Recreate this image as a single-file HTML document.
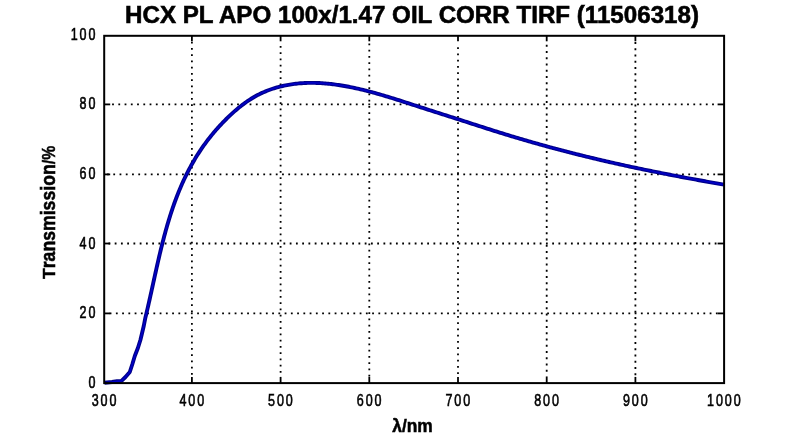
<!DOCTYPE html>
<html><head><meta charset="utf-8"><style>
html,body{margin:0;padding:0;background:#fff;width:800px;height:438px;overflow:hidden}
svg{display:block}
text{font-family:"Liberation Sans",sans-serif;fill:#000}
svg text{filter:grayscale(1)}
.tl{font-size:16.5px;stroke:#000;stroke-width:.6px;letter-spacing:2.5px}
.al{font-size:17.5px;font-weight:bold;stroke:#000;stroke-width:.5px}
.ti{font-size:24.5px;font-weight:bold;stroke:#000;stroke-width:.6px}
.g{stroke:#000;stroke-width:1.8;stroke-dasharray:1.8 4.45;fill:none}
.gv{stroke:#000;stroke-width:2;stroke-dasharray:2 4.4;fill:none}
.t{stroke:#000;stroke-width:1.8;fill:none}
.fr{stroke:#000;stroke-width:2;fill:none}
.c{stroke:#000088;stroke-width:3.9;fill:none;stroke-linejoin:round;stroke-linecap:butt}
.c2{stroke:#0000f0;stroke-width:1.6;fill:none;stroke-linejoin:round;opacity:.6}
</style></head><body>
<svg width="800" height="438" viewBox="0 0 800 438">
<line x1="109.65" y1="313.4" x2="717.6" y2="313.4" class="g"/>
<line x1="108.45" y1="243.5" x2="717.6" y2="243.5" class="g"/>
<line x1="107.05" y1="174.4" x2="717.6" y2="174.4" class="g"/>
<line x1="112.1" y1="104.4" x2="717.6" y2="104.4" class="g"/>
<line x1="191.9" y1="41.8" x2="191.9" y2="376.6" class="g"/>
<line x1="280.6" y1="45.9" x2="280.6" y2="376.6" class="g"/>
<line x1="369.3" y1="43.5" x2="369.3" y2="376.6" class="g"/>
<line x1="458" y1="47.2" x2="458" y2="376.6" class="g"/>
<line x1="546.7" y1="44.85" x2="546.7" y2="376.6" class="g"/>
<line x1="635.4" y1="42.1" x2="635.4" y2="376.6" class="g"/>
<line x1="191.9" y1="383.1" x2="191.9" y2="376.9" class="t"/>
<line x1="191.9" y1="35.8" x2="191.9" y2="41.3" class="t"/>
<line x1="280.6" y1="383.1" x2="280.6" y2="376.9" class="t"/>
<line x1="280.6" y1="35.8" x2="280.6" y2="41.3" class="t"/>
<line x1="369.3" y1="383.1" x2="369.3" y2="376.9" class="t"/>
<line x1="369.3" y1="35.8" x2="369.3" y2="41.3" class="t"/>
<line x1="458" y1="383.1" x2="458" y2="376.9" class="t"/>
<line x1="458" y1="35.8" x2="458" y2="41.3" class="t"/>
<line x1="546.7" y1="383.1" x2="546.7" y2="376.9" class="t"/>
<line x1="546.7" y1="35.8" x2="546.7" y2="41.3" class="t"/>
<line x1="635.4" y1="383.1" x2="635.4" y2="376.9" class="t"/>
<line x1="635.4" y1="35.8" x2="635.4" y2="41.3" class="t"/>
<line x1="104.2" y1="313.4" x2="110.2" y2="313.4" class="t"/>
<line x1="724.1" y1="313.4" x2="717.6" y2="313.4" class="t"/>
<line x1="104.2" y1="243.5" x2="110.2" y2="243.5" class="t"/>
<line x1="724.1" y1="243.5" x2="717.6" y2="243.5" class="t"/>
<line x1="104.2" y1="174.4" x2="110.2" y2="174.4" class="t"/>
<line x1="724.1" y1="174.4" x2="717.6" y2="174.4" class="t"/>
<line x1="104.2" y1="104.4" x2="110.2" y2="104.4" class="t"/>
<line x1="724.1" y1="104.4" x2="717.6" y2="104.4" class="t"/>
<path d="M104.5,382.7 L112,382 L117,381.2 L121.5,380.9 L125.5,377 L129.8,372 L132.4,364 L134.8,356 L137.9,348 L140.4,340 L141.85,334 L143.75,326 L145.33,317.88 L145.67,316.46 L146.02,315.04 L146.36,313.61 L146.69,312.18 L147.03,310.75 L147.36,309.32 L147.7,307.89 L148.03,306.46 L148.36,305.02 L148.68,303.58 L149.01,302.15 L149.33,300.71 L149.66,299.27 L149.98,297.83 L150.3,296.38 L150.62,294.94 L150.94,293.5 L151.26,292.05 L151.58,290.61 L151.9,289.16 L152.22,287.71 L152.53,286.26 L152.85,284.82 L153.17,283.37 L153.49,281.92 L153.81,280.47 L154.12,279.02 L154.44,277.57 L154.76,276.11 L155.08,274.66 L155.4,273.21 L155.73,271.76 L156.05,270.31 L156.37,268.86 L156.7,267.41 L157.03,265.95 L157.36,264.5 L157.68,263.05 L158.02,261.6 L158.35,260.15 L158.69,258.7 L159.02,257.25 L159.36,255.8 L159.7,254.35 L160.05,252.9 L160.39,251.46 L160.74,250.01 L161.1,248.56 L161.45,247.12 L161.81,245.67 L162.17,244.23 L162.53,242.79 L162.9,241.35 L163.27,239.91 L163.64,238.47 L164.02,237.03 L164.4,235.59 L164.79,234.16 L165.18,232.73 L165.57,231.29 L165.96,229.86 L166.37,228.43 L166.77,227 L167.18,225.58 L167.6,224.15 L168.01,222.73 L168.44,221.31 L168.87,219.89 L169.3,218.47 L169.74,217.06 L170.18,215.65 L170.63,214.23 L171.09,212.83 L171.55,211.42 L172.02,210.01 L172.49,208.61 L172.97,207.21 L173.45,205.81 L173.94,204.42 L174.44,203.03 L174.94,201.64 L175.45,200.25 L175.96,198.87 L176.49,197.48 L177.01,196.1 L177.55,194.73 L178.09,193.36 L178.64,191.99 L179.2,190.62 L179.77,189.25 L180.34,187.89 L180.92,186.54 L181.5,185.18 L182.1,183.83 L182.7,182.48 L183.31,181.14 L183.93,179.8 L184.56,178.46 L185.2,177.12 L185.84,175.79 L186.49,174.47 L187.15,173.14 L187.82,171.82 L188.5,170.51 L189.19,169.2 L189.89,167.89 L190.59,166.59 L191.3,165.29 L192.03,164 L192.76,162.71 L193.5,161.42 L194.25,160.14 L195,158.87 L195.77,157.6 L196.55,156.34 L197.33,155.08 L198.13,153.83 L198.93,152.58 L199.74,151.34 L200.56,150.1 L201.39,148.87 L202.23,147.65 L203.08,146.43 L203.94,145.22 L204.81,144.02 L205.68,142.82 L206.57,141.63 L207.46,140.44 L208.37,139.26 L209.28,138.09 L210.2,136.93 L211.13,135.77 L212.07,134.62 L213.02,133.48 L213.98,132.34 L214.94,131.21 L215.91,130.09 L216.89,128.97 L217.88,127.86 L218.88,126.76 L219.88,125.67 L220.9,124.58 L221.92,123.5 L222.94,122.43 L223.98,121.36 L225.02,120.3 L226.07,119.25 L227.13,118.21 L228.19,117.17 L229.26,116.14 L230.34,115.12 L231.42,114.11 L232.51,113.11 L233.62,112.12 L234.72,111.14 L235.84,110.17 L236.97,109.21 L238.1,108.26 L239.25,107.33 L240.4,106.4 L241.56,105.49 L242.73,104.6 L243.91,103.72 L245.1,102.85 L246.3,102 L247.51,101.16 L248.73,100.34 L249.97,99.54 L251.21,98.75 L252.46,97.98 L253.73,97.23 L255,96.5 L256.29,95.78 L257.59,95.09 L258.9,94.41 L260.23,93.76 L261.56,93.12 L262.91,92.51 L264.26,91.92 L265.63,91.34 L267.01,90.79 L268.39,90.25 L269.79,89.74 L271.19,89.24 L272.6,88.77 L274.02,88.31 L275.44,87.87 L276.88,87.46 L278.31,87.06 L279.75,86.68 L281.2,86.32 L282.65,85.98 L284.11,85.65 L285.57,85.35 L287.03,85.06 L288.49,84.8 L289.96,84.55 L291.42,84.32 L292.89,84.1 L294.36,83.91 L295.83,83.73 L297.3,83.57 L298.77,83.43 L300.25,83.3 L301.72,83.19 L303.2,83.1 L304.67,83.02 L306.15,82.96 L307.62,82.92 L309.1,82.88 L310.58,82.87 L312.06,82.87 L313.53,82.88 L315.01,82.91 L316.49,82.95 L317.96,83 L319.44,83.07 L320.92,83.15 L322.39,83.24 L323.87,83.35 L325.35,83.47 L326.82,83.59 L328.29,83.74 L329.77,83.89 L331.24,84.05 L332.71,84.23 L334.18,84.41 L335.65,84.61 L337.12,84.82 L338.58,85.03 L340.05,85.26 L341.51,85.49 L342.97,85.74 L344.43,85.99 L345.89,86.25 L347.35,86.52 L348.8,86.79 L350.25,87.08 L351.7,87.37 L353.15,87.67 L354.6,87.98 L356.05,88.3 L357.49,88.62 L358.94,88.95 L360.38,89.28 L361.82,89.63 L363.26,89.97 L364.7,90.33 L366.13,90.69 L367.57,91.06 L369,91.43 L370.43,91.81 L371.86,92.19 L373.29,92.58 L374.72,92.97 L376.15,93.37 L377.58,93.77 L379,94.18 L380.43,94.59 L381.85,95 L383.27,95.42 L384.7,95.84 L386.12,96.27 L387.54,96.7 L388.96,97.13 L390.38,97.56 L391.79,98 L393.21,98.44 L394.63,98.89 L396.04,99.33 L397.46,99.78 L398.87,100.23 L400.29,100.68 L401.7,101.13 L403.11,101.58 L404.52,102.04 L405.94,102.5 L407.35,102.95 L408.76,103.41 L410.17,103.87 L411.58,104.33 L412.99,104.78 L414.4,105.24 L415.81,105.7 L417.22,106.16 L418.63,106.62 L420.04,107.07 L421.45,107.53 L422.86,107.98 L424.27,108.44 L425.68,108.89 L427.09,109.34 L428.5,109.79 L429.91,110.24 L431.32,110.7 L432.73,111.15 L434.14,111.6 L435.55,112.05 L436.96,112.5 L438.37,112.95 L439.77,113.4 L441.18,113.84 L442.59,114.29 L444,114.74 L445.41,115.19 L446.82,115.64 L448.23,116.09 L449.64,116.54 L451.05,116.99 L452.46,117.44 L453.86,117.89 L455.27,118.34 L456.68,118.79 L458.09,119.25 L459.5,119.7 L460.91,120.15 L462.32,120.61 L463.73,121.06 L465.14,121.52 L466.55,121.97 L467.95,122.43 L469.36,122.88 L470.77,123.34 L472.18,123.79 L473.59,124.25 L475,124.7 L476.41,125.16 L477.82,125.61 L479.23,126.06 L480.64,126.52 L482.05,126.97 L483.46,127.42 L484.87,127.88 L486.29,128.33 L487.7,128.78 L489.11,129.23 L490.52,129.68 L491.93,130.13 L493.35,130.57 L494.76,131.02 L496.17,131.47 L497.59,131.91 L499,132.35 L500.42,132.79 L501.83,133.23 L503.25,133.67 L504.66,134.11 L506.08,134.55 L507.5,134.98 L508.91,135.41 L510.33,135.84 L511.75,136.27 L513.17,136.7 L514.59,137.13 L516.01,137.55 L517.43,137.98 L518.85,138.4 L520.27,138.82 L521.69,139.24 L523.11,139.65 L524.53,140.07 L525.96,140.48 L527.38,140.89 L528.8,141.31 L530.23,141.71 L531.65,142.12 L533.08,142.53 L534.5,142.93 L535.93,143.34 L537.35,143.74 L538.78,144.14 L540.2,144.54 L541.63,144.93 L543.06,145.33 L544.49,145.72 L545.92,146.12 L547.34,146.51 L548.77,146.9 L550.2,147.29 L551.63,147.67 L553.06,148.06 L554.49,148.44 L555.93,148.83 L557.36,149.21 L558.79,149.59 L560.22,149.97 L561.65,150.34 L563.09,150.72 L564.52,151.09 L565.95,151.46 L567.39,151.83 L568.82,152.2 L570.26,152.57 L571.69,152.94 L573.13,153.3 L574.56,153.67 L576,154.03 L577.44,154.39 L578.87,154.75 L580.31,155.11 L581.75,155.47 L583.19,155.82 L584.63,156.18 L586.07,156.53 L587.5,156.88 L588.94,157.23 L590.38,157.58 L591.82,157.93 L593.26,158.27 L594.71,158.62 L596.15,158.96 L597.59,159.3 L599.03,159.64 L600.47,159.98 L601.92,160.32 L603.36,160.65 L604.8,160.99 L606.25,161.32 L607.69,161.65 L609.13,161.99 L610.58,162.32 L612.02,162.64 L613.47,162.97 L614.91,163.3 L616.36,163.62 L617.81,163.94 L619.25,164.27 L620.7,164.59 L622.15,164.9 L623.59,165.22 L625.04,165.54 L626.49,165.85 L627.94,166.17 L629.39,166.48 L630.84,166.79 L632.28,167.1 L633.73,167.41 L635.18,167.72 L636.63,168.03 L638.08,168.33 L639.53,168.64 L640.99,168.94 L642.44,169.24 L643.89,169.54 L645.34,169.84 L646.79,170.14 L648.24,170.44 L649.7,170.73 L651.15,171.03 L652.6,171.32 L654.05,171.62 L655.51,171.91 L656.96,172.2 L658.41,172.49 L659.87,172.78 L661.32,173.07 L662.78,173.35 L664.23,173.64 L665.69,173.93 L667.14,174.21 L668.59,174.49 L670.05,174.78 L671.51,175.06 L672.96,175.34 L674.42,175.62 L675.87,175.89 L677.33,176.17 L678.78,176.45 L680.24,176.72 L681.7,177 L683.15,177.27 L684.61,177.55 L686.07,177.82 L687.53,178.09 L688.98,178.36 L690.44,178.63 L691.9,178.9 L693.36,179.17 L694.81,179.44 L696.27,179.7 L697.73,179.97 L699.19,180.24 L700.65,180.5 L702.1,180.77 L703.56,181.03 L705.02,181.29 L706.48,181.55 L707.94,181.81 L709.4,182.08 L710.86,182.34 L712.31,182.59 L713.77,182.85 L715.23,183.11 L716.69,183.37 L718.15,183.63 L719.61,183.88 L721.07,184.14 L722.53,184.39 L723.99,184.65" class="c"/>
<path d="M104.5,382.7 L112,382 L117,381.2 L121.5,380.9 L125.5,377 L129.8,372 L132.4,364 L134.8,356 L137.9,348 L140.4,340 L141.85,334 L143.75,326 L145.33,317.88 L145.67,316.46 L146.02,315.04 L146.36,313.61 L146.69,312.18 L147.03,310.75 L147.36,309.32 L147.7,307.89 L148.03,306.46 L148.36,305.02 L148.68,303.58 L149.01,302.15 L149.33,300.71 L149.66,299.27 L149.98,297.83 L150.3,296.38 L150.62,294.94 L150.94,293.5 L151.26,292.05 L151.58,290.61 L151.9,289.16 L152.22,287.71 L152.53,286.26 L152.85,284.82 L153.17,283.37 L153.49,281.92 L153.81,280.47 L154.12,279.02 L154.44,277.57 L154.76,276.11 L155.08,274.66 L155.4,273.21 L155.73,271.76 L156.05,270.31 L156.37,268.86 L156.7,267.41 L157.03,265.95 L157.36,264.5 L157.68,263.05 L158.02,261.6 L158.35,260.15 L158.69,258.7 L159.02,257.25 L159.36,255.8 L159.7,254.35 L160.05,252.9 L160.39,251.46 L160.74,250.01 L161.1,248.56 L161.45,247.12 L161.81,245.67 L162.17,244.23 L162.53,242.79 L162.9,241.35 L163.27,239.91 L163.64,238.47 L164.02,237.03 L164.4,235.59 L164.79,234.16 L165.18,232.73 L165.57,231.29 L165.96,229.86 L166.37,228.43 L166.77,227 L167.18,225.58 L167.6,224.15 L168.01,222.73 L168.44,221.31 L168.87,219.89 L169.3,218.47 L169.74,217.06 L170.18,215.65 L170.63,214.23 L171.09,212.83 L171.55,211.42 L172.02,210.01 L172.49,208.61 L172.97,207.21 L173.45,205.81 L173.94,204.42 L174.44,203.03 L174.94,201.64 L175.45,200.25 L175.96,198.87 L176.49,197.48 L177.01,196.1 L177.55,194.73 L178.09,193.36 L178.64,191.99 L179.2,190.62 L179.77,189.25 L180.34,187.89 L180.92,186.54 L181.5,185.18 L182.1,183.83 L182.7,182.48 L183.31,181.14 L183.93,179.8 L184.56,178.46 L185.2,177.12 L185.84,175.79 L186.49,174.47 L187.15,173.14 L187.82,171.82 L188.5,170.51 L189.19,169.2 L189.89,167.89 L190.59,166.59 L191.3,165.29 L192.03,164 L192.76,162.71 L193.5,161.42 L194.25,160.14 L195,158.87 L195.77,157.6 L196.55,156.34 L197.33,155.08 L198.13,153.83 L198.93,152.58 L199.74,151.34 L200.56,150.1 L201.39,148.87 L202.23,147.65 L203.08,146.43 L203.94,145.22 L204.81,144.02 L205.68,142.82 L206.57,141.63 L207.46,140.44 L208.37,139.26 L209.28,138.09 L210.2,136.93 L211.13,135.77 L212.07,134.62 L213.02,133.48 L213.98,132.34 L214.94,131.21 L215.91,130.09 L216.89,128.97 L217.88,127.86 L218.88,126.76 L219.88,125.67 L220.9,124.58 L221.92,123.5 L222.94,122.43 L223.98,121.36 L225.02,120.3 L226.07,119.25 L227.13,118.21 L228.19,117.17 L229.26,116.14 L230.34,115.12 L231.42,114.11 L232.51,113.11 L233.62,112.12 L234.72,111.14 L235.84,110.17 L236.97,109.21 L238.1,108.26 L239.25,107.33 L240.4,106.4 L241.56,105.49 L242.73,104.6 L243.91,103.72 L245.1,102.85 L246.3,102 L247.51,101.16 L248.73,100.34 L249.97,99.54 L251.21,98.75 L252.46,97.98 L253.73,97.23 L255,96.5 L256.29,95.78 L257.59,95.09 L258.9,94.41 L260.23,93.76 L261.56,93.12 L262.91,92.51 L264.26,91.92 L265.63,91.34 L267.01,90.79 L268.39,90.25 L269.79,89.74 L271.19,89.24 L272.6,88.77 L274.02,88.31 L275.44,87.87 L276.88,87.46 L278.31,87.06 L279.75,86.68 L281.2,86.32 L282.65,85.98 L284.11,85.65 L285.57,85.35 L287.03,85.06 L288.49,84.8 L289.96,84.55 L291.42,84.32 L292.89,84.1 L294.36,83.91 L295.83,83.73 L297.3,83.57 L298.77,83.43 L300.25,83.3 L301.72,83.19 L303.2,83.1 L304.67,83.02 L306.15,82.96 L307.62,82.92 L309.1,82.88 L310.58,82.87 L312.06,82.87 L313.53,82.88 L315.01,82.91 L316.49,82.95 L317.96,83 L319.44,83.07 L320.92,83.15 L322.39,83.24 L323.87,83.35 L325.35,83.47 L326.82,83.59 L328.29,83.74 L329.77,83.89 L331.24,84.05 L332.71,84.23 L334.18,84.41 L335.65,84.61 L337.12,84.82 L338.58,85.03 L340.05,85.26 L341.51,85.49 L342.97,85.74 L344.43,85.99 L345.89,86.25 L347.35,86.52 L348.8,86.79 L350.25,87.08 L351.7,87.37 L353.15,87.67 L354.6,87.98 L356.05,88.3 L357.49,88.62 L358.94,88.95 L360.38,89.28 L361.82,89.63 L363.26,89.97 L364.7,90.33 L366.13,90.69 L367.57,91.06 L369,91.43 L370.43,91.81 L371.86,92.19 L373.29,92.58 L374.72,92.97 L376.15,93.37 L377.58,93.77 L379,94.18 L380.43,94.59 L381.85,95 L383.27,95.42 L384.7,95.84 L386.12,96.27 L387.54,96.7 L388.96,97.13 L390.38,97.56 L391.79,98 L393.21,98.44 L394.63,98.89 L396.04,99.33 L397.46,99.78 L398.87,100.23 L400.29,100.68 L401.7,101.13 L403.11,101.58 L404.52,102.04 L405.94,102.5 L407.35,102.95 L408.76,103.41 L410.17,103.87 L411.58,104.33 L412.99,104.78 L414.4,105.24 L415.81,105.7 L417.22,106.16 L418.63,106.62 L420.04,107.07 L421.45,107.53 L422.86,107.98 L424.27,108.44 L425.68,108.89 L427.09,109.34 L428.5,109.79 L429.91,110.24 L431.32,110.7 L432.73,111.15 L434.14,111.6 L435.55,112.05 L436.96,112.5 L438.37,112.95 L439.77,113.4 L441.18,113.84 L442.59,114.29 L444,114.74 L445.41,115.19 L446.82,115.64 L448.23,116.09 L449.64,116.54 L451.05,116.99 L452.46,117.44 L453.86,117.89 L455.27,118.34 L456.68,118.79 L458.09,119.25 L459.5,119.7 L460.91,120.15 L462.32,120.61 L463.73,121.06 L465.14,121.52 L466.55,121.97 L467.95,122.43 L469.36,122.88 L470.77,123.34 L472.18,123.79 L473.59,124.25 L475,124.7 L476.41,125.16 L477.82,125.61 L479.23,126.06 L480.64,126.52 L482.05,126.97 L483.46,127.42 L484.87,127.88 L486.29,128.33 L487.7,128.78 L489.11,129.23 L490.52,129.68 L491.93,130.13 L493.35,130.57 L494.76,131.02 L496.17,131.47 L497.59,131.91 L499,132.35 L500.42,132.79 L501.83,133.23 L503.25,133.67 L504.66,134.11 L506.08,134.55 L507.5,134.98 L508.91,135.41 L510.33,135.84 L511.75,136.27 L513.17,136.7 L514.59,137.13 L516.01,137.55 L517.43,137.98 L518.85,138.4 L520.27,138.82 L521.69,139.24 L523.11,139.65 L524.53,140.07 L525.96,140.48 L527.38,140.89 L528.8,141.31 L530.23,141.71 L531.65,142.12 L533.08,142.53 L534.5,142.93 L535.93,143.34 L537.35,143.74 L538.78,144.14 L540.2,144.54 L541.63,144.93 L543.06,145.33 L544.49,145.72 L545.92,146.12 L547.34,146.51 L548.77,146.9 L550.2,147.29 L551.63,147.67 L553.06,148.06 L554.49,148.44 L555.93,148.83 L557.36,149.21 L558.79,149.59 L560.22,149.97 L561.65,150.34 L563.09,150.72 L564.52,151.09 L565.95,151.46 L567.39,151.83 L568.82,152.2 L570.26,152.57 L571.69,152.94 L573.13,153.3 L574.56,153.67 L576,154.03 L577.44,154.39 L578.87,154.75 L580.31,155.11 L581.75,155.47 L583.19,155.82 L584.63,156.18 L586.07,156.53 L587.5,156.88 L588.94,157.23 L590.38,157.58 L591.82,157.93 L593.26,158.27 L594.71,158.62 L596.15,158.96 L597.59,159.3 L599.03,159.64 L600.47,159.98 L601.92,160.32 L603.36,160.65 L604.8,160.99 L606.25,161.32 L607.69,161.65 L609.13,161.99 L610.58,162.32 L612.02,162.64 L613.47,162.97 L614.91,163.3 L616.36,163.62 L617.81,163.94 L619.25,164.27 L620.7,164.59 L622.15,164.9 L623.59,165.22 L625.04,165.54 L626.49,165.85 L627.94,166.17 L629.39,166.48 L630.84,166.79 L632.28,167.1 L633.73,167.41 L635.18,167.72 L636.63,168.03 L638.08,168.33 L639.53,168.64 L640.99,168.94 L642.44,169.24 L643.89,169.54 L645.34,169.84 L646.79,170.14 L648.24,170.44 L649.7,170.73 L651.15,171.03 L652.6,171.32 L654.05,171.62 L655.51,171.91 L656.96,172.2 L658.41,172.49 L659.87,172.78 L661.32,173.07 L662.78,173.35 L664.23,173.64 L665.69,173.93 L667.14,174.21 L668.59,174.49 L670.05,174.78 L671.51,175.06 L672.96,175.34 L674.42,175.62 L675.87,175.89 L677.33,176.17 L678.78,176.45 L680.24,176.72 L681.7,177 L683.15,177.27 L684.61,177.55 L686.07,177.82 L687.53,178.09 L688.98,178.36 L690.44,178.63 L691.9,178.9 L693.36,179.17 L694.81,179.44 L696.27,179.7 L697.73,179.97 L699.19,180.24 L700.65,180.5 L702.1,180.77 L703.56,181.03 L705.02,181.29 L706.48,181.55 L707.94,181.81 L709.4,182.08 L710.86,182.34 L712.31,182.59 L713.77,182.85 L715.23,183.11 L716.69,183.37 L718.15,183.63 L719.61,183.88 L721.07,184.14 L722.53,184.39 L723.99,184.65" class="c2"/>
<rect x="104.2" y="35.8" width="619.9" height="347.3" class="fr"/>
<text transform="translate(97.3,388) scale(0.76,1)" class="tl" text-anchor="end">0</text>
<text transform="translate(97.3,318.4) scale(0.76,1)" class="tl" text-anchor="end">20</text>
<text transform="translate(97.3,248.5) scale(0.76,1)" class="tl" text-anchor="end">40</text>
<text transform="translate(97.3,179.4) scale(0.76,1)" class="tl" text-anchor="end">60</text>
<text transform="translate(97.3,109.4) scale(0.76,1)" class="tl" text-anchor="end">80</text>
<text transform="translate(97.3,40.3) scale(0.76,1)" class="tl" text-anchor="end">100</text>
<text transform="translate(105,406.2) scale(0.76,1)" class="tl" text-anchor="middle">300</text>
<text transform="translate(192.7,406.2) scale(0.76,1)" class="tl" text-anchor="middle">400</text>
<text transform="translate(281.4,406.2) scale(0.76,1)" class="tl" text-anchor="middle">500</text>
<text transform="translate(370.1,406.2) scale(0.76,1)" class="tl" text-anchor="middle">600</text>
<text transform="translate(458.8,406.2) scale(0.76,1)" class="tl" text-anchor="middle">700</text>
<text transform="translate(547.5,406.2) scale(0.76,1)" class="tl" text-anchor="middle">800</text>
<text transform="translate(636.2,406.2) scale(0.76,1)" class="tl" text-anchor="middle">900</text>
<text transform="translate(724.8,406.2) scale(0.76,1)" class="tl" text-anchor="middle">1000</text>
<text transform="translate(412.5,431.5) scale(1,1.1)" class="al" text-anchor="middle" textLength="40.5" lengthAdjust="spacingAndGlyphs">&#955;/nm</text>
<text transform="translate(55.2,279) rotate(-90) scale(1,0.94)" class="al">T</text>
<text transform="translate(55.2,268.3) rotate(-90) scale(1,1.2)" class="al" textLength="104" lengthAdjust="spacingAndGlyphs">ransmission</text>
<text transform="translate(55.2,164.2) rotate(-90) scale(1,1.0)" class="al" textLength="18.3" lengthAdjust="spacingAndGlyphs">/%</text>
<text x="412" y="22.8" class="ti" text-anchor="middle" textLength="574" lengthAdjust="spacingAndGlyphs">HCX PL APO 100x/1.47 OIL CORR TIRF (11506318)</text>
</svg>
</body></html>
